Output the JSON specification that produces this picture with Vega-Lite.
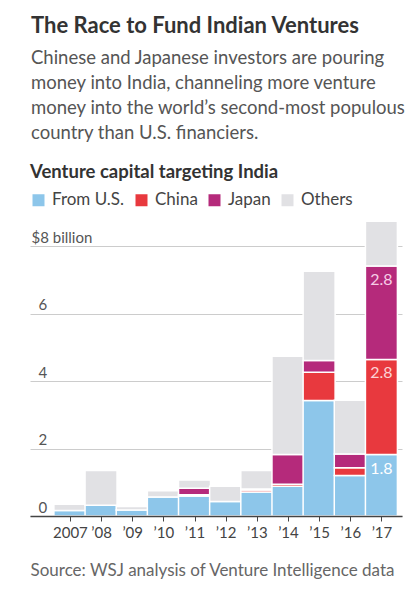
{
  "$schema": "https://vega.github.io/schema/vega-lite/v6.json",
  "width": 372,
  "height": 297,
  "autosize": "none",
  "padding": {"left": 30, "top": 219, "right": 18, "bottom": 84},
  "background": "white",
  "config": {"font": "Lato", "view": {"stroke": null}},
  "title": {
    "text": "The Race to Fund Indian Ventures",
    "subtitle": [
      "Chinese and Japanese investors are pouring",
      "money into India, channeling more venture",
      "money into the world’s second-most populous",
      "country than U.S. financiers."
    ],
    "anchor": "start",
    "frame": "group",
    "fontSize": 22,
    "fontWeight": "bold",
    "color": "#333333",
    "subtitleFontSize": 18.5,
    "subtitleColor": "#555555",
    "subtitleLineHeight": 25,
    "subtitlePadding": 11,
    "offset": 20,
    "dx": 1
  },
  "data": {
    "values": [
      {"year": 2007, "series": "From U.S.", "value": 0.16},
      {"year": 2007, "series": "Others", "value": 0.19},
      {"year": 2008, "series": "From U.S.", "value": 0.32},
      {"year": 2008, "series": "Others", "value": 1.03},
      {"year": 2009, "series": "From U.S.", "value": 0.18},
      {"year": 2009, "series": "Others", "value": 0.10},
      {"year": 2010, "series": "From U.S.", "value": 0.56},
      {"year": 2010, "series": "Others", "value": 0.19},
      {"year": 2011, "series": "From U.S.", "value": 0.59},
      {"year": 2011, "series": "China", "value": 0.04},
      {"year": 2011, "series": "Japan", "value": 0.19},
      {"year": 2011, "series": "Others", "value": 0.25},
      {"year": 2012, "series": "From U.S.", "value": 0.43},
      {"year": 2012, "series": "Others", "value": 0.45},
      {"year": 2013, "series": "From U.S.", "value": 0.71},
      {"year": 2013, "series": "China", "value": 0.06},
      {"year": 2013, "series": "Japan", "value": 0.03},
      {"year": 2013, "series": "Others", "value": 0.55},
      {"year": 2014, "series": "From U.S.", "value": 0.88},
      {"year": 2014, "series": "China", "value": 0.06},
      {"year": 2014, "series": "Japan", "value": 0.88},
      {"year": 2014, "series": "Others", "value": 2.91},
      {"year": 2015, "series": "From U.S.", "value": 3.42},
      {"year": 2015, "series": "China", "value": 0.84},
      {"year": 2015, "series": "Japan", "value": 0.35},
      {"year": 2015, "series": "Others", "value": 2.64},
      {"year": 2016, "series": "From U.S.", "value": 1.20},
      {"year": 2016, "series": "China", "value": 0.23},
      {"year": 2016, "series": "Japan", "value": 0.41},
      {"year": 2016, "series": "Others", "value": 1.59},
      {"year": 2017, "series": "From U.S.", "value": 1.82},
      {"year": 2017, "series": "China", "value": 2.82},
      {"year": 2017, "series": "Japan", "value": 2.77},
      {"year": 2017, "series": "Others", "value": 1.32}
    ]
  },
  "transform": [
    {"calculate": "indexof(['From U.S.', 'China', 'Japan', 'Others'], datum.series)", "as": "stackRank"}
  ],
  "encoding": {
    "x": {
      "field": "year",
      "type": "quantitative",
      "scale": {"domain": [2005.88, 2017.5], "nice": false, "zero": false},
      "axis": {
        "values": [2007, 2008, 2009, 2010, 2011, 2012, 2013, 2014, 2015, 2016, 2017],
        "labelExpr": "datum.value == 2007 ? '2007' : '’' + substring(toString(datum.value), 2)",
        "grid": false,
        "domainColor": "#444444",
        "domainWidth": 1.5,
        "tickColor": "#444444",
        "tickSize": 5,
        "labelFontSize": 15,
        "labelColor": "#444444",
        "labelPadding": 4,
        "labelFlush": false,
        "labelOverlap": false,
        "labelSeparation": 0,
        "title": "Source: WSJ analysis of Venture Intelligence data",
        "titleAnchor": "start",
        "titleAlign": "left",
        "titleFontSize": 17,
        "titleFontWeight": "normal",
        "titleColor": "#666666",
        "titlePadding": 22,
        "zindex": 1
      }
    },
    "y": {
      "field": "value",
      "type": "quantitative",
      "stack": "zero",
      "scale": {"domain": [0, 8.8], "nice": false},
      "axis": {
        "values": [0, 2, 4, 6, 8],
        "title": null,
        "domain": false,
        "ticks": false,
        "tickSize": 0,
        "grid": true,
        "gridColor": "#cccccc",
        "labelAlign": "left",
        "labelBaseline": "alphabetic",
        "labelPadding": {"condition": {"test": "datum.value == 8", "value": -1}, "value": -8},
        "labelOffset": -4,
        "labelExpr": "datum.value == 8 ? '$8 billion' : datum.label",
        "labelFontSize": 15,
        "labelColor": "#555555"
      }
    },
    "order": {"field": "stackRank", "type": "quantitative", "sort": "ascending"}
  },
  "layer": [
    {
      "mark": {"type": "bar", "size": 32, "stroke": "white", "strokeWidth": 1.5},
      "encoding": {
        "color": {
          "field": "series",
          "type": "nominal",
          "scale": {
            "domain": ["From U.S.", "China", "Japan", "Others"],
            "range": ["#8dc6ea", "#e8393e", "#b52a7b", "#e1e1e4"]
          },
          "legend": {
            "title": "Venture capital targeting India",
            "orient": "top",
            "direction": "horizontal",
            "titleFontSize": 18.5,
            "titleFontWeight": "bold",
            "titleColor": "#333333",
            "titleLimit": 400,
            "titlePadding": 10,
            "labelFontSize": 17,
            "labelColor": "#444444",
            "symbolType": "square",
            "symbolSize": 144,
            "symbolStrokeWidth": 0,
            "columnPadding": 8,
            "labelOffset": 5,
            "offset": 10,
            "padding": 0
          }
        }
      }
    },
    {
      "transform": [{"filter": "datum.year == 2017 && datum.series != 'Others'"}],
      "mark": {"type": "text", "baseline": "top", "dy": 6, "fontSize": 16},
      "encoding": {
        "text": {"field": "value", "type": "quantitative", "format": ".1f"},
        "color": {
          "field": "series",
          "type": "nominal",
          "scale": {
            "domain": ["From U.S.", "China", "Japan"],
            "range": ["#ffffff", "#fcd3d5", "#f6cde6"]
          },
          "legend": null
        }
      }
    }
  ],
  "resolve": {"scale": {"color": "independent"}}
}
